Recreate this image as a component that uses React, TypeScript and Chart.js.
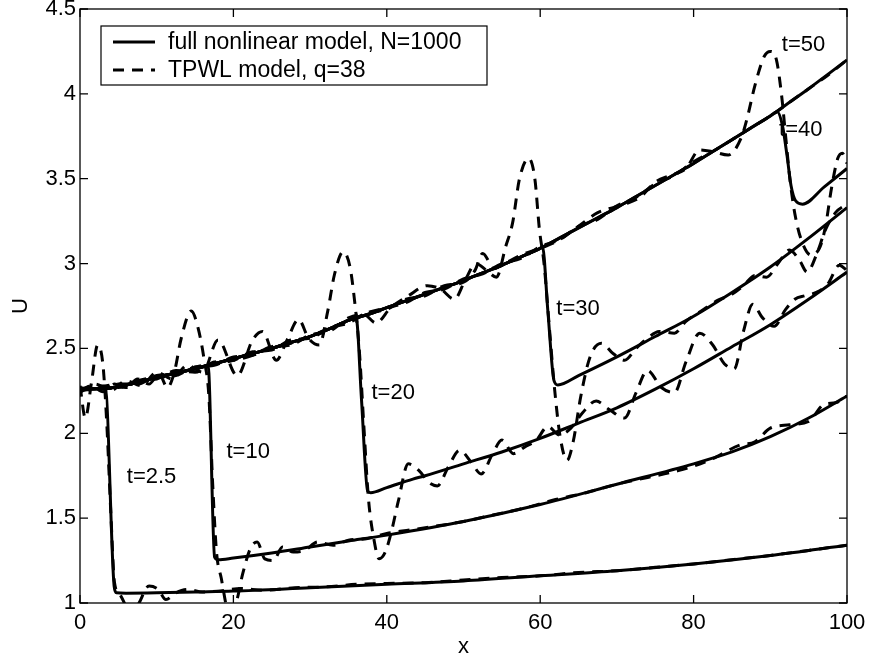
import React, { useEffect, useRef } from 'react';
import { Chart, registerables } from 'chart.js';

Chart.register(...registerables);

// ---------- axis ticks ----------
const xTickStep = 20;
const yTickStep = 0.5;
const xMin = 0, xMax = 100, yMin = 1, yMax = 4.5;

// ---------- legend / annotation text ----------
const legendLabels = ['full nonlinear model, N=1000', 'TPWL model, q=38'];
const snapshotLabels = ['t=2.5', 't=10', 't=20', 't=30', 't=40', 't=50'];
const snapshotLabelX = [6.1, 19.1, 38.0, 62.1, 91.15, 91.5];
const snapshotLabelU = [1.74, 1.89, 2.24, 2.73, 3.79, 4.29];

// ---------- full nonlinear model: common upstream state ----------
const envelopeX = [0, 2, 4, 6, 8, 10, 12.5, 15, 17.5, 20, 22.5, 25, 27.5, 30, 32.5, 35, 37.5, 40, 42.5, 45, 47.5, 50, 52.5, 55, 57.5, 60, 62.5, 65, 67.5, 70, 72.5, 75, 77.5, 80, 82.5, 85, 87.5, 90, 92.5, 95, 97.5, 100];
const envelopeU = [2.26, 2.263, 2.267, 2.285, 2.305, 2.33, 2.355, 2.38, 2.41, 2.44, 2.47, 2.50, 2.535, 2.57, 2.615, 2.665, 2.70, 2.74, 2.78, 2.82, 2.86, 2.90, 2.945, 2.99, 3.04, 3.09, 3.15, 3.21, 3.27, 3.33, 3.395, 3.46, 3.525, 3.59, 3.66, 3.73, 3.80, 3.87, 3.95, 4.03, 4.115, 4.20];

// ---------- full nonlinear model: shock + downstream parts ----------
const fullT2_5X = [3.3, 4.45, 4.75, 6, 10, 15, 20, 30, 40, 50, 60, 70, 80, 90, 100];
const fullT2_5U = [2.265, 1.10, 1.06, 1.058, 1.06, 1.065, 1.07, 1.09, 1.11, 1.13, 1.16, 1.19, 1.23, 1.28, 1.34];

const fullT10X = [16.7, 17.55, 18.0, 20, 25, 30, 35, 40, 50, 60, 70, 80, 85, 90, 95, 100];
const fullT10U = [2.40, 1.27, 1.255, 1.265, 1.295, 1.33, 1.365, 1.40, 1.48, 1.58, 1.70, 1.82, 1.89, 1.98, 2.09, 2.22];

const fullT20X = [36.0, 36.7, 37.5, 37.9, 40, 43.4, 45, 50, 55, 60, 65, 70, 75, 80, 85, 90, 95, 100];
const fullT20U = [2.68, 2.20, 1.66, 1.65, 1.68, 1.73, 1.75, 1.82, 1.89, 1.97, 2.06, 2.15, 2.26, 2.38, 2.51, 2.64, 2.79, 2.95];

const fullT30X = [60.3, 61.0, 61.8, 62.3, 65, 70, 75, 80, 85, 90, 95, 100];
const fullT30U = [3.10, 2.72, 2.31, 2.285, 2.34, 2.45, 2.57, 2.69, 2.83, 2.98, 3.15, 3.33];

const fullT40X = [90.9, 91.6, 92.2, 92.7, 93.3, 94.2, 97, 100];
const fullT40U = [3.895, 3.81, 3.63, 3.46, 3.37, 3.35, 3.45, 3.56];

// ---------- TPWL model, q=38 ----------
const tpwlT2_5X = [0, 0.7, 1.5, 2.3, 3.0, 3.5, 4.0, 4.5, 5.2, 6.0, 6.8, 7.7, 9.0, 10.2, 11.2, 12.5, 14, 16, 18, 21, 24, 28, 32, 36, 40, 45, 50, 55, 60, 65, 70, 75, 80, 85, 90, 95, 100];
const tpwlT2_5U = [2.28, 2.09, 2.30, 2.52, 2.40, 2.05, 1.55, 1.12, 1.05, 0.98, 0.92, 1.00, 1.10, 1.08, 1.02, 1.06, 1.08, 1.065, 1.07, 1.085, 1.075, 1.09, 1.095, 1.11, 1.115, 1.12, 1.135, 1.15, 1.16, 1.18, 1.19, 1.21, 1.23, 1.255, 1.28, 1.31, 1.34];

const tpwlT10X = [0, 1.5, 3, 4.5, 6, 7.5, 9, 10.3, 11.4, 12.3, 13.2, 14.5, 15.4, 16.2, 16.8, 17.3, 17.8, 18.4, 19.4, 20.4, 21.2, 22.2, 23.1, 24.1, 25.2, 26.4, 27.8, 29.3, 31, 33, 35, 37.5, 40, 43, 46, 50, 54, 58, 62, 66, 70, 74, 78, 82, 86, 88, 90, 92.5, 95, 97, 98.5, 100];
const tpwlT10U = [2.25, 2.28, 2.245, 2.29, 2.27, 2.32, 2.29, 2.35, 2.27, 2.36, 2.56, 2.72, 2.62, 2.43, 2.22, 1.70, 1.30, 1.15, 0.95, 1.01, 1.17, 1.32, 1.36, 1.26, 1.25, 1.33, 1.30, 1.31, 1.36, 1.34, 1.37, 1.38, 1.41, 1.43, 1.45, 1.48, 1.52, 1.56, 1.61, 1.65, 1.70, 1.74, 1.78, 1.84, 1.93, 1.95, 2.03, 2.05, 2.07, 2.17, 2.18, 2.22];

const tpwlT20X = [0, 2, 4, 6, 8, 10, 12, 14, 16, 18, 20.5, 22.5, 23.8, 25.6, 27, 28.5, 29.8, 31.2, 32.3, 33.2, 34.3, 35.2, 35.8, 36.4, 37.0, 37.6, 38.3, 39.0, 39.8, 40.6, 41.5, 42.8, 44.2, 45.5, 46.6, 48, 49.5, 51, 52.3, 53.8, 55, 56.5, 58, 59.5, 61, 62.5, 64, 65.5, 67.3, 69, 71, 72.5, 74, 75.8, 77.5, 79, 80.8, 82.5, 84, 85.3, 86.5, 87.7, 89, 90.5, 92, 93.2, 94.5, 96, 97.5, 99, 100];
const tpwlT20U = [2.24, 2.29, 2.25, 2.31, 2.28, 2.36, 2.32, 2.40, 2.36, 2.55, 2.34, 2.55, 2.60, 2.43, 2.55, 2.67, 2.56, 2.52, 2.72, 2.94, 3.07, 2.98, 2.78, 2.50, 2.05, 1.62, 1.38, 1.26, 1.30, 1.42, 1.60, 1.82, 1.78, 1.71, 1.69, 1.80, 1.90, 1.83, 1.76, 1.88, 1.96, 1.88, 1.92, 1.96, 2.04, 1.99, 2.03, 2.12, 2.19, 2.14, 2.09, 2.24, 2.37, 2.27, 2.24, 2.42, 2.59, 2.52, 2.41, 2.38, 2.60, 2.76, 2.68, 2.63, 2.73, 2.79, 2.81, 2.83, 2.88, 2.99, 2.96];

const tpwlT30X = [0, 2, 4, 6, 8, 10, 12.5, 15, 17.5, 20, 22.5, 25, 27.5, 30, 32.5, 35, 37, 38.6, 40.5, 42.8, 45.3, 47, 48.8, 50.2, 51.6, 53, 54.3, 55.5, 56.4, 57.3, 58.5, 59.3, 59.9, 60.5, 61.2, 61.9, 62.6, 63.5, 64.3, 65.3, 66.5, 68, 69.5, 71, 72.5, 74, 75.5, 77.5, 79, 81, 83, 85, 86.5, 88, 89.5, 91, 92.5, 93.8, 94.8, 96, 97.2, 98.5, 100];
const tpwlT30U = [2.27, 2.25, 2.28, 2.27, 2.31, 2.32, 2.37, 2.36, 2.42, 2.43, 2.46, 2.51, 2.52, 2.58, 2.60, 2.68, 2.70, 2.65, 2.74, 2.81, 2.87, 2.85, 2.79, 2.90, 3.00, 2.96, 2.92, 3.10, 3.24, 3.50, 3.62, 3.50, 3.20, 3.00, 2.62, 2.25, 1.98, 1.84, 1.95, 2.22, 2.45, 2.53, 2.47, 2.43, 2.50, 2.56, 2.60, 2.59, 2.66, 2.72, 2.78, 2.82, 2.87, 2.93, 2.92, 3.00, 3.08, 3.02, 2.95, 3.05, 3.20, 3.30, 3.35];

const tpwlT40X = [0, 2.5, 5, 7.5, 10, 12.5, 15, 17.5, 20, 22.5, 25, 27.5, 30, 32.5, 35, 37.5, 40, 42.5, 45, 47.5, 50, 51.5, 52.5, 54, 55, 57.5, 60, 62.5, 65, 67.5, 69.5, 71, 73, 75, 77, 79, 80.8, 82.5, 84.5, 86.2, 87, 88, 89.2, 90, 90.8, 91.5, 92.0, 92.6, 93.3, 94.2, 95.3, 96.5, 97.2, 98, 98.8, 99.4, 100];
const tpwlT40U = [2.26, 2.28, 2.27, 2.31, 2.33, 2.34, 2.39, 2.40, 2.45, 2.46, 2.51, 2.53, 2.57, 2.62, 2.66, 2.71, 2.73, 2.79, 2.81, 2.87, 2.89, 2.96, 3.06, 2.97, 2.99, 3.05, 3.09, 3.14, 3.22, 3.30, 3.33, 3.35, 3.39, 3.48, 3.52, 3.56, 3.67, 3.66, 3.64, 3.74, 3.86, 4.05, 4.22, 4.25, 4.20, 3.98, 3.75, 3.48, 3.27, 3.12, 3.05, 3.10, 3.22, 3.45, 3.62, 3.65, 3.59];

const tpwlT50X = [0, 2.5, 5, 7.5, 10, 12.5, 15, 17.5, 20, 22.5, 25, 27.5, 30, 32.5, 35, 37.5, 40, 42.5, 45, 47.5, 50, 52.5, 55, 57.5, 60, 62.5, 65, 67.5, 70, 72.5, 75, 77.5, 80, 82.5, 85, 87.5, 90, 92.5, 95, 97.5, 100];
const tpwlT50U = [2.25, 2.27, 2.29, 2.29, 2.34, 2.35, 2.39, 2.41, 2.43, 2.48, 2.49, 2.55, 2.56, 2.62, 2.65, 2.71, 2.74, 2.77, 2.83, 2.85, 2.91, 2.94, 3.00, 3.03, 3.10, 3.14, 3.22, 3.26, 3.34, 3.39, 3.47, 3.52, 3.60, 3.66, 3.73, 3.80, 3.87, 3.95, 4.03, 4.11, 4.20];

const FONT = '"Liberation Sans", Arial, Helvetica, sans-serif';

const zip = (xs: number[], us: number[]) => xs.map((x, i) => ({ x, y: us[i] }));
const fullSeries = (tailX: number[] | null, tailU: number[] | null) => {
  const env = zip(envelopeX, envelopeU);
  if (!tailX || !tailU) return env;
  return [...env.filter((p) => p.x < tailX[0]), ...zip(tailX, tailU)];
};

const fullSets = [
  fullSeries(fullT2_5X, fullT2_5U),
  fullSeries(fullT10X, fullT10U),
  fullSeries(fullT20X, fullT20U),
  fullSeries(fullT30X, fullT30U),
  fullSeries(fullT40X, fullT40U),
  fullSeries(null, null),
];
const tpwlSets = [
  zip(tpwlT2_5X, tpwlT2_5U),
  zip(tpwlT10X, tpwlT10U),
  zip(tpwlT20X, tpwlT20U),
  zip(tpwlT30X, tpwlT30U),
  zip(tpwlT40X, tpwlT40U),
  zip(tpwlT50X, tpwlT50U),
];

const DASH = [11, 8];
const LW = 3;

const decorPlugin = {
  id: 'decor',
  beforeDatasetsDraw(chart: any) {
    const { ctx, scales } = chart;
    const xs = scales.x, ys = scales.y;
    ctx.save();
    ctx.fillStyle = '#000';
    ctx.font = `22px ${FONT}`;
    ctx.textAlign = 'left';
    ctx.textBaseline = 'middle';
    snapshotLabels.forEach((s, i) => {
      ctx.fillText(s, xs.getPixelForValue(snapshotLabelX[i]), ys.getPixelForValue(snapshotLabelU[i]));
    });
    ctx.restore();
  },
  afterDraw(chart: any) {
    const { ctx, chartArea: a, scales } = chart;
    const xs = scales.x, ys = scales.y;
    ctx.save();
    ctx.strokeStyle = '#000';
    ctx.lineWidth = 1.3;
    ctx.strokeRect(a.left, a.top, a.right - a.left, a.bottom - a.top);
    const L = 8;
    ctx.beginPath();
    xs.ticks.forEach((t: any) => {
      const px = xs.getPixelForValue(t.value);
      ctx.moveTo(px, a.bottom); ctx.lineTo(px, a.bottom - L);
      ctx.moveTo(px, a.top); ctx.lineTo(px, a.top + L);
    });
    ys.ticks.forEach((t: any) => {
      const py = ys.getPixelForValue(t.value);
      ctx.moveTo(a.left, py); ctx.lineTo(a.left + L, py);
      ctx.moveTo(a.right, py); ctx.lineTo(a.right - L, py);
    });
    ctx.stroke();

    // legend box
    const bx = a.left + 21, by = a.top + 17, bw = 386, bh = 59;
    ctx.fillStyle = '#fff';
    ctx.fillRect(bx, by, bw, bh);
    ctx.lineWidth = 1.2;
    ctx.strokeRect(bx, by, bw, bh);
    const rows = [by + 16, by + 44];
    ctx.font = `23px ${FONT}`;
    ctx.textAlign = 'left';
    ctx.textBaseline = 'middle';
    rows.forEach((ry, i) => {
      ctx.beginPath();
      ctx.lineWidth = LW;
      ctx.setLineDash(i === 0 ? [] : DASH);
      ctx.moveTo(bx + 12, ry);
      ctx.lineTo(bx + 54, ry);
      ctx.stroke();
      ctx.setLineDash([]);
      ctx.fillStyle = '#000';
      ctx.fillText(legendLabels[i], bx + 67, ry + 1);
    });
    ctx.restore();
  },
};

export default function App() {
  const ref = useRef<HTMLCanvasElement | null>(null);

  useEffect(() => {
    if (!ref.current) return;
    const datasets: any[] = [];
    tpwlSets.forEach((d, i) => {
      datasets.push({
        label: `${legendLabels[1]} ${snapshotLabels[i]}`,
        data: d,
        borderColor: '#000',
        borderWidth: LW,
        borderDash: DASH,
        pointRadius: 0,
        fill: false,
        cubicInterpolationMode: 'monotone',
      });
    });
    fullSets.forEach((d, i) => {
      datasets.push({
        label: `${legendLabels[0]} ${snapshotLabels[i]}`,
        data: d,
        borderColor: '#000',
        borderWidth: LW,
        pointRadius: 0,
        fill: false,
        cubicInterpolationMode: 'monotone',
      });
    });

    const tickFont = { family: FONT, size: 22 };
    const chart = new Chart(ref.current, {
      type: 'line',
      data: { datasets },
      plugins: [decorPlugin],
      options: {
        responsive: false,
        maintainAspectRatio: false,
        animation: false,
        devicePixelRatio: 1,
        parsing: false,
        normalized: true,
        layout: { padding: { top: 9, right: 23, left: 0, bottom: 0 } },
        plugins: { legend: { display: false }, tooltip: { enabled: false } },
        scales: {
          x: {
            type: 'linear',
            min: xMin,
            max: xMax,
            ticks: { stepSize: xTickStep, color: '#000', font: tickFont, padding: 7, callback: (v: any) => String(v) },
            grid: { display: false, drawTicks: false },
            border: { display: false },
            title: { display: true, text: 'x', color: '#000', font: tickFont, padding: { top: 0, bottom: 3 } },
            afterFit: (s: any) => { s.height = 60; s.paddingLeft = 0; s.paddingRight = 0; },
          },
          y: {
            type: 'linear',
            min: yMin,
            max: yMax,
            ticks: { stepSize: yTickStep, color: '#000', font: tickFont, padding: 4, callback: (v: any) => String(v) },
            grid: { display: false, drawTicks: false },
            border: { display: false },
            title: { display: true, text: 'U', color: '#000', font: tickFont, padding: { top: 8, bottom: 0 } },
            afterFit: (s: any) => { s.width = 80; s.paddingTop = 0; s.paddingBottom = 0; },
          },
        },
      } as any,
    });
    return () => chart.destroy();
  }, []);

  return (
    <div style={{ position: 'fixed', left: 0, top: 0, width: 870, height: 663, background: '#fff' }}>
      <canvas ref={ref} width={870} height={663} style={{ display: 'block', width: 870, height: 663 }} />
    </div>
  );
}
